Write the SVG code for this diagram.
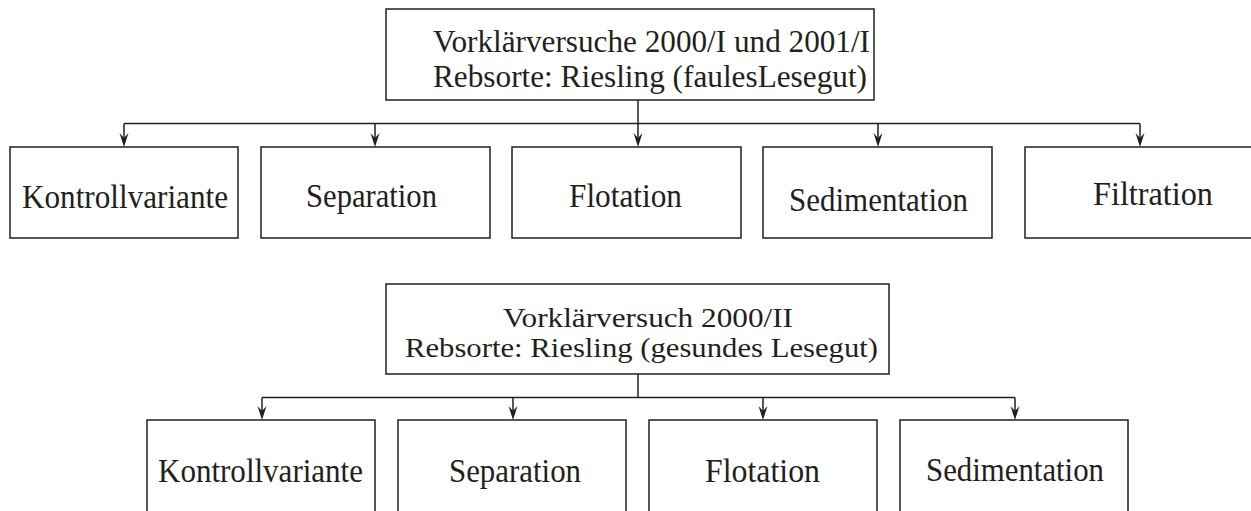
<svg xmlns="http://www.w3.org/2000/svg" width="1251" height="511" viewBox="0 0 1251 511">
<style>
.box{fill:#fff;stroke:#231f20;stroke-width:1.5}
.ln{fill:none;stroke:#231f20;stroke-width:1.5}
.ah{fill:#231f20;stroke:none}
.t{font-size:31px}
.t2{font-size:27px}
.l{font-size:33px}
</style>
<defs>
<path id="arr" class="ah" d="M0,0 L-4.5,-14 L0,-9 L4.5,-14 Z"/>
</defs>
<rect width="1251" height="511" fill="#fff"/>
<g id="connectors">
<path class="ln" d="M638,100 V123.5 M124,123.5 H1140 M124,123.5 V140 M375,123.5 V140 M638,123.5 V140 M878,123.5 V140 M1140,123.5 V140"/>
<use href="#arr" x="124" y="147"/>
<use href="#arr" x="375" y="147"/>
<use href="#arr" x="638" y="147"/>
<use href="#arr" x="878" y="147"/>
<use href="#arr" x="1140" y="147"/>
<path class="ln" d="M638,374 V397.5 M262,397.5 H1015 M262,397.5 V413 M513,397.5 V413 M763,397.5 V413 M1015,397.5 V413"/>
<use href="#arr" x="262" y="420"/>
<use href="#arr" x="513" y="420"/>
<use href="#arr" x="763" y="420"/>
<use href="#arr" x="1015" y="420"/>
</g>
<g font-family="'Liberation Serif', 'DejaVu Serif', serif" fill="#231f20">
<g id="title1">
<rect class="box" x="386" y="9" width="488" height="91"/>
<text class="t" x="433" y="52" textLength="437" lengthAdjust="spacingAndGlyphs">Vorklärversuche 2000/I und 2001/I</text>
<text class="t" x="433" y="87" textLength="434" lengthAdjust="spacingAndGlyphs">Rebsorte: Riesling (faulesLesegut)</text>
</g>
<g id="n1-kontroll">
<rect class="box" x="10" y="147" width="228" height="91"/>
<text class="l" x="22" y="208" textLength="206" lengthAdjust="spacingAndGlyphs">Kontrollvariante</text>
</g>
<g id="n1-separation">
<rect class="box" x="261" y="147" width="229" height="91"/>
<text class="l" x="306" y="207" textLength="131" lengthAdjust="spacingAndGlyphs">Separation</text>
</g>
<g id="n1-flotation">
<rect class="box" x="512" y="147" width="229" height="91"/>
<text class="l" x="569" y="207" textLength="113" lengthAdjust="spacingAndGlyphs">Flotation</text>
</g>
<g id="n1-sedimentation">
<rect class="box" x="763" y="147" width="229" height="91"/>
<text class="l" x="789" y="211" textLength="179" lengthAdjust="spacingAndGlyphs">Sedimentation</text>
</g>
<g id="n1-filtration">
<rect class="box" x="1025" y="147" width="240" height="91"/>
<text class="l" x="1093" y="205" textLength="120" lengthAdjust="spacingAndGlyphs">Filtration</text>
</g>
<g id="title2">
<rect class="box" x="386" y="284" width="503" height="90"/>
<text class="t2" x="503" y="327" textLength="290" lengthAdjust="spacingAndGlyphs">Vorklärversuch 2000/II</text>
<text class="t2" x="405" y="357" textLength="473" lengthAdjust="spacingAndGlyphs">Rebsorte: Riesling (gesundes Lesegut)</text>
</g>
<g id="n2-kontroll">
<rect class="box" x="147" y="420" width="228" height="100"/>
<text class="l" x="158" y="482" textLength="205" lengthAdjust="spacingAndGlyphs">Kontrollvariante</text>
</g>
<g id="n2-separation">
<rect class="box" x="398" y="420" width="228" height="100"/>
<text class="l" x="449" y="482" textLength="132" lengthAdjust="spacingAndGlyphs">Separation</text>
</g>
<g id="n2-flotation">
<rect class="box" x="649" y="420" width="228" height="100"/>
<text class="l" x="705" y="482" textLength="115" lengthAdjust="spacingAndGlyphs">Flotation</text>
</g>
<g id="n2-sedimentation">
<rect class="box" x="900" y="420" width="228" height="100"/>
<text class="l" x="926" y="481" textLength="178" lengthAdjust="spacingAndGlyphs">Sedimentation</text>
</g>
</g>
</svg>
